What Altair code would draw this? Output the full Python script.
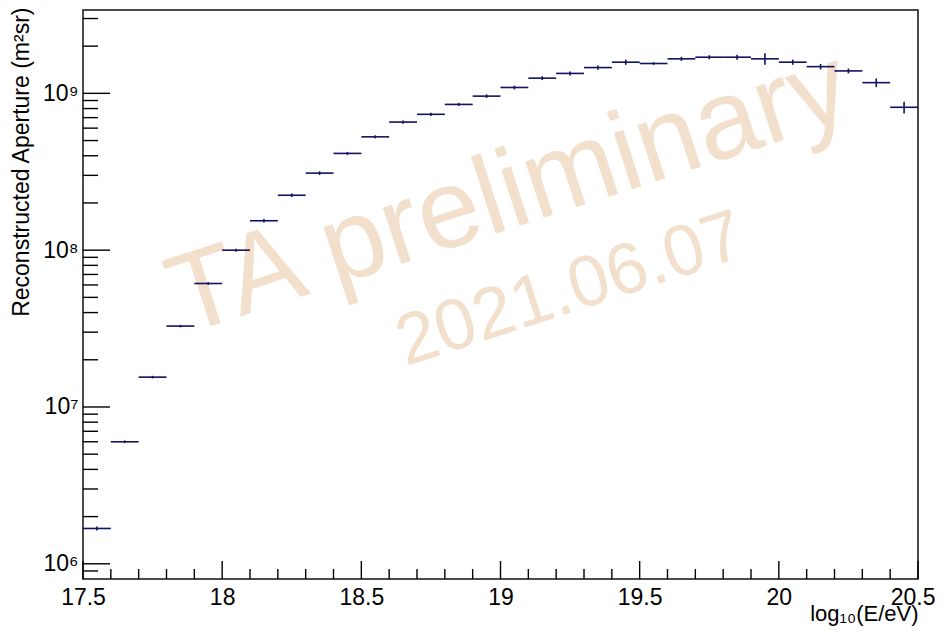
import altair as alt
import pandas as pd

# ---- data ----
bin_center = [17.55, 17.65, 17.75, 17.85, 17.95, 18.05, 18.15, 18.25, 18.35, 18.45,
              18.55, 18.65, 18.75, 18.85, 18.95, 19.05, 19.15, 19.25, 19.35, 19.45,
              19.55, 19.65, 19.75, 19.85, 19.95, 20.05, 20.15, 20.25, 20.35, 20.45]
aperture = [1.68e6, 6.0e6, 1.55e7, 3.28e7, 6.13e7, 1.0e8, 1.54e8, 2.24e8, 3.1e8, 4.14e8,
            5.28e8, 6.56e8, 7.35e8, 8.5e8, 9.6e8, 1.09e9, 1.25e9, 1.34e9, 1.46e9, 1.58e9,
            1.55e9, 1.66e9, 1.70e9, 1.70e9, 1.66e9, 1.58e9, 1.48e9, 1.39e9, 1.17e9, 8.15e8]
aperture_err = [5e4, 1.2e5, 3e5, 6e5, 1.2e6, 2.2e6, 4e6, 6e6, 8e6, 9e6,
                1.2e7, 1.5e7, 1.8e7, 2e7, 2.5e7, 3e7, 3.5e7, 4e7, 4.5e7, 6e7,
                3e7, 5e7, 5e7, 6e7, 1.4e8, 6e7, 6e7, 5e7, 7.5e7, 7e7]
half_width = 0.05

x_major = [17.5, 18.0, 18.5, 19.0, 19.5, 20.0, 20.5]
x_minor = [17.6, 17.7, 17.8, 17.9, 18.1, 18.2, 18.3, 18.4, 18.6, 18.7, 18.8, 18.9,
           19.1, 19.2, 19.3, 19.4, 19.6, 19.7, 19.8, 19.9, 20.1, 20.2, 20.3, 20.4]
y_major = [1e6, 1e7, 1e8, 1e9]
y_minor = [9e5, 2e6, 3e6, 4e6, 5e6, 6e6, 7e6, 8e6, 9e6,
           2e7, 3e7, 4e7, 5e7, 6e7, 7e7, 8e7, 9e7,
           2e8, 3e8, 4e8, 5e8, 6e8, 7e8, 8e8, 9e8, 2e9, 3e9]

watermark_text = ["TA preliminary", "2021.06.07"]
watermark_x = [19.03, 19.25]
watermark_y = [2.3e8, 5.6e7]
watermark_size = [112, 72]

x_title = "log₁₀(E/eV)"
y_title = "Reconstructed Aperture (m²sr)"

# ---- layout ----
W, H = 835, 569
FONT = "Liberation Sans, Arial, Helvetica, sans-serif"
COLOR = "#12125e"

df = pd.DataFrame({"x": bin_center, "y": aperture, "err": aperture_err})
df["x_lo"] = df["x"] - half_width
df["x_hi"] = df["x"] + half_width
df["y_lo"] = df["y"] - df["err"]
df["y_hi"] = df["y"] + df["err"]

xs = alt.Scale(domain=[17.5, 20.5], nice=False, zero=False)
ys = alt.Scale(type="log", domain=[8e5, 3.4e9], nice=False)

sup = "['⁰','¹','²','³','⁴','⁵','⁶','⁷','⁸','⁹']"

x_axis = alt.Axis(values=x_major, labelExpr="toString(datum.value)", ticks=False, domain=False,
                  grid=False, labelFlush=False, labelBound=False, labelOverlap=False,
                  labelAlign={"condition": {"test": "datum.value == 20.5", "value": "right"},
                              "value": "center"},
                  labelOffset={"condition": {"test": "datum.value == 20.5", "value": 17},
                               "value": 0},
                  labelFont=FONT, labelFontSize=23, labelColor="black", labelPadding=7,
                  title=x_title, titleFont=FONT, titleFontSize=22, titleFontWeight="normal",
                  titleColor="black", titleX=W, titleY=24, titleAlign="right", titleBaseline="top")
y_axis = alt.Axis(values=y_major, labelExpr="'10' + " + sup + "[round(log(datum.value)/LN10)]",
                  ticks=False, domain=False, grid=False, labelFlush=False, labelOverlap=False,
                  labelFont=FONT, labelFontSize=23,
                  labelColor="black", labelPadding=5,
                  title=y_title, titleFont=FONT, titleFontSize=23, titleFontWeight="normal",
                  titleColor="black", titleX=-62, titleY=-3, titleAngle=270, titleAlign="right",
                  titleBaseline="middle")

wm = pd.DataFrame({"t": watermark_text, "x": watermark_x, "y": watermark_y, "s": watermark_size})
watermark = alt.Chart(wm).mark_text(
    angle=342, font="Liberation Sans, Arial, sans-serif",
    color="#f0d8c0", opacity=0.8, align="center", baseline="middle"
).encode(
    x=alt.X("x:Q", scale=xs, axis=x_axis),
    y=alt.Y("y:Q", scale=ys, axis=y_axis),
    text="t:N",
    size=alt.Size("s:Q", scale=None, legend=None),
)

hbars = alt.Chart(df).mark_rule(color=COLOR, strokeWidth=1.6).encode(
    x=alt.X("x_lo:Q", scale=xs, axis=x_axis),
    x2="x_hi:Q",
    y=alt.Y("y:Q", scale=ys, axis=y_axis),
)
vbars = alt.Chart(df).mark_rule(color=COLOR, strokeWidth=1.6).encode(
    x=alt.X("x:Q", scale=xs, axis=x_axis),
    y=alt.Y("y_lo:Q", scale=ys, axis=y_axis),
    y2="y_hi:Q",
)

tk = dict(color="black", strokeWidth=1.4)
xmaj = alt.Chart(pd.DataFrame({"v": x_major})).mark_rule(**tk).encode(
    x=alt.X("v:Q", scale=xs, axis=x_axis), y=alt.value(H), y2=alt.value(H - 18))
xmin = alt.Chart(pd.DataFrame({"v": x_minor})).mark_rule(**tk).encode(
    x=alt.X("v:Q", scale=xs, axis=x_axis), y=alt.value(H), y2=alt.value(H - 10))
ymaj = alt.Chart(pd.DataFrame({"v": y_major})).mark_rule(**tk).encode(
    y=alt.Y("v:Q", scale=ys, axis=y_axis), x=alt.value(0), x2=alt.value(27))
ymin = alt.Chart(pd.DataFrame({"v": y_minor})).mark_rule(**tk).encode(
    y=alt.Y("v:Q", scale=ys, axis=y_axis), x=alt.value(0), x2=alt.value(15))

chart = alt.layer(watermark, hbars, vbars, xmaj, xmin, ymaj, ymin).properties(
    width=W, height=H,
    autosize=alt.AutoSizeParams(type="none"),
    padding={"left": 75, "top": 2, "right": 17, "bottom": 48},
    background="white",
).configure_view(stroke="#111111", strokeWidth=1.5)

chart.save("out.html", embed_options={"renderer": "svg", "actions": False})
